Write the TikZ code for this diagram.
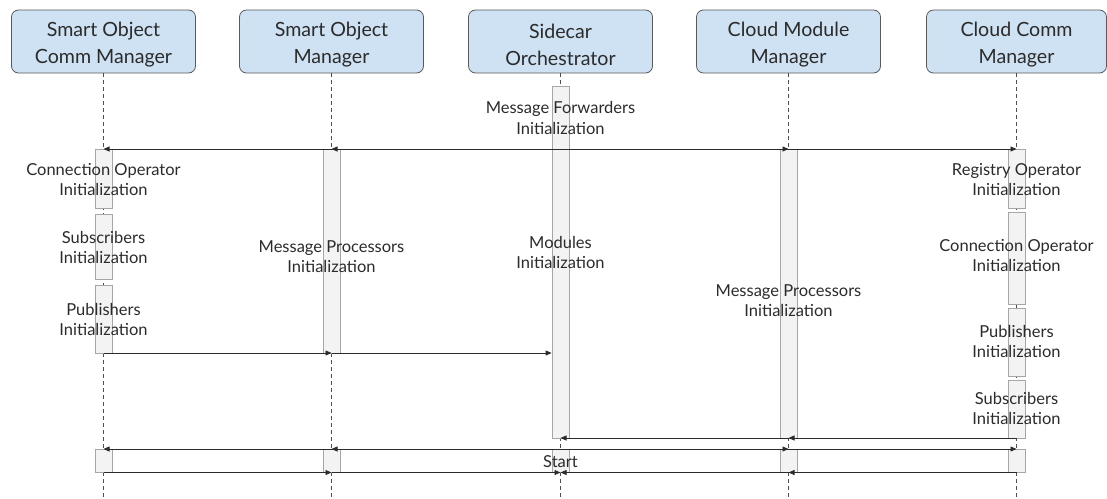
\documentclass[tikz,border=0pt]{standalone}
\usepackage{fontspec}
\setmainfont{Lato}
\usetikzlibrary{arrows.meta,fit}
\definecolor{hdrfill}{HTML}{CFE2F3}
\definecolor{hdrline}{HTML}{595959}
\definecolor{actfill}{HTML}{F3F3F3}
\definecolor{actline}{HTML}{A6A6A6}
\definecolor{ink}{HTML}{2B2B2B}
\definecolor{lifegray}{HTML}{4D4D4D}
\begin{document}
\begin{tikzpicture}[x=1pt,y=-1pt,
  header/.style={draw=hdrline, fill=hdrfill, rounded corners=7pt,
    minimum width=184pt, minimum height=63pt, inner sep=0pt, line width=0.8pt},
  htext/.style={align=center, inner sep=0pt, text=ink, font=\fontsize{19.6}{27}\selectfont},
  lifeline/.style={draw=lifegray, line width=0.8pt, dash pattern=on 4pt off 3pt},
  act/.style={draw=actline, fill=actfill, minimum width=17pt, inner sep=0pt, line width=0.8pt},
  lbl/.style={align=center, inner sep=0pt, text=ink, font=\fontsize{16.5}{20.5}\selectfont},
  msg/.style={draw=ink, line width=0.8pt, -{Triangle[length=6pt,width=5pt]}}]
\useasboundingbox (0,0) rectangle (1107,498);

% participants
\node[header] (h1) at (103.5,41.5) {};
\node[header] (h2) at (331.5,41.5) {};
\node[header] (h3) at (560.5,41.5) {};
\node[header] (h4) at (788.5,41.5) {};
\node[header, minimum width=180pt] (h5) at (1016.5,41.5) {};
\node[htext] (n1) at ([yshift=-3pt]h1.center) {Smart Object\\Comm Manager};
\node[htext] (n2) at ([yshift=-3pt]h2.center) {Smart Object\\Manager};
\node[htext] (n3) at ([yshift=-3pt]h3.center) {Sidecar\\Orchestrator};
\node[htext] (n4) at ([yshift=-3pt]h4.center) {Cloud Module\\Manager};
\node[htext] (n5) at ([yshift=-3pt]h5.center) {Cloud Comm\\Manager};

% lifelines
\coordinate (bot) at (0,498);
\foreach \h in {h1,h2,h3,h4,h5}
  \draw[lifeline] (\h.south) -- (\h.south |- bot);

% message rows
\coordinate (r1) at (0,149);
\coordinate (r2) at (0,353);
\coordinate (r3) at (0,438);
\coordinate (r4) at (0,449);
\coordinate (r5) at (0,472.5);

% activations: Smart Object Comm Manager
\node[act, fit={(103.5,149) (103.5,208)}] (a1) {};
\node[act, fit={(103.5,214) (103.5,279)}] (a2) {};
\node[act, fit={(103.5,285) (103.5,353)}] (a3) {};
\node[act, fit={(103.5,449) (103.5,472.5)}] (a4) {};
% Smart Object Manager
\node[act, fit={(331.5,149) (331.5,353)}] (b1) {};
\node[act, fit={(331.5,449) (331.5,472.5)}] (b2) {};
% Sidecar Orchestrator
\node[act, fit={(560.5,86) (560.5,438.5)}] (c1) {};
\node[act, fit={(560.5,449) (560.5,472.5)}] (c2) {};
% Cloud Module Manager
\node[act, fit={(788.5,149) (788.5,438.5)}] (d1) {};
\node[act, fit={(788.5,449) (788.5,472.5)}] (d2) {};
% Cloud Comm Manager
\node[act, fit={(1016.5,149) (1016.5,208)}] (e1) {};
\node[act, fit={(1016.5,212) (1016.5,304)}] (e2) {};
\node[act, fit={(1016.5,308) (1016.5,376)}] (e3) {};
\node[act, fit={(1016.5,380) (1016.5,438.5)}] (e4) {};
\node[act, fit={(1016.5,449) (1016.5,472.5)}] (e5) {};

% activation labels
\node[lbl] (t0) at (560.5,118) {Message Forwarders\\Initialization};
\node[lbl] (t1) at (103.5,179.5) {Connection Operator\\Initialization};
\node[lbl] (t2) at (103.5,247.5) {Subscribers\\Initialization};
\node[lbl] (t3) at (103.5,319.5) {Publishers\\Initialization};
\node[lbl] (t4) at (331.5,256.5) {Message Processors\\Initialization};
\node[lbl] (t5) at (560.5,252.5) {Modules\\Initialization};
\node[lbl] (t6) at (788.5,300.5) {Message Processors\\Initialization};
\node[lbl] (t7) at (1016.5,179.5) {Registry Operator\\Initialization};
\node[lbl] (t8) at (1016.5,255.5) {Connection Operator\\Initialization};
\node[lbl] (t9) at (1016.5,341.5) {Publishers\\Initialization};
\node[lbl] (t10) at (1016.5,408.5) {Subscribers\\Initialization};
\node[lbl] (t11) at (560.5,461.5) {Start};

% initialization requests from the orchestrator
\draw[msg] (h3 |- r1) -- (h1 |- r1);
\draw[msg] (h3 |- r1) -- (h2 |- r1);
\draw[msg] (h3 |- r1) -- (h4 |- r1);
\draw[msg] (h3 |- r1) -- (h5 |- r1);
% replies
\draw[msg] (h1 |- r2) -- (h2 |- r2);
\draw[msg] (h2 |- r2) -- (c1.west |- r2);
\draw[msg] (h5 |- r3) -- (h4 |- r3);
\draw[msg] (h4 |- r3) -- (h3 |- r3);
% start requests
\draw[msg] (h3 |- r4) -- (h1 |- r4);
\draw[msg] (h3 |- r4) -- (h2 |- r4);
\draw[msg] (h3 |- r4) -- (h4 |- r4);
\draw[msg] (h3 |- r4) -- (h5 |- r4);
% start replies
\draw[msg] (h1 |- r5) -- (h2 |- r5);
\draw[msg] (h2 |- r5) -- (h3 |- r5);
\draw[msg] (h5 |- r5) -- (h4 |- r5);
\draw[msg] (h4 |- r5) -- (h3 |- r5);
\end{tikzpicture}
\end{document}
